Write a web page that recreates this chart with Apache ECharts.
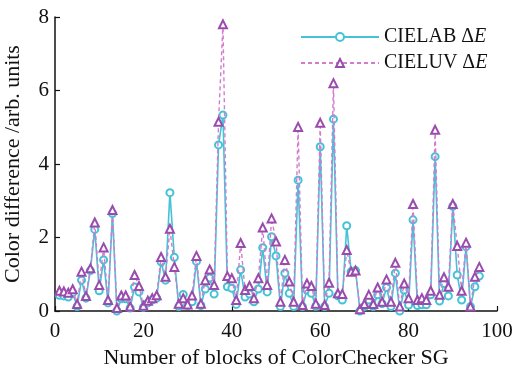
<!DOCTYPE html>
<html>
<head>
<meta charset="utf-8">
<script src="https://cdn.jsdelivr.net/npm/echarts@6/dist/echarts.min.js"></script>
<style>
  html, body { margin: 0; padding: 0; background: #fff; }
  #chart { width: 514px; height: 366px; }
</style>
</head>
<body>
<div id="chart"></div>
<script>
// Patch index on the ColorChecker SG (1..96)
const blocks = Array.from({ length: 96 }, (_, i) => i + 1);

// Colour difference per patch, CIELAB formula
const cielab = [
  0.43, 0.41, 0.38, 0.50, 0.12, 0.84, 0.35, 1.10, 2.22, 0.55,
  1.39, 0.22, 2.65, 0.00, 0.33, 0.33, 0.08, 0.65, 0.52, 0.10,
  0.22, 0.30, 0.35, 1.34, 0.84, 3.22, 1.46, 0.12, 0.45, 0.15,
  0.25, 1.35, 0.15, 0.60, 0.90, 0.46, 4.52, 5.33, 0.66, 0.62,
  0.18, 1.12, 0.38, 0.46, 0.25, 0.60, 1.72, 0.52, 2.02, 1.50,
  0.12, 1.03, 0.48, 0.12, 3.56, 0.12, 0.57, 0.48, 0.13, 4.47,
  0.12, 0.48, 5.22, 0.41, 0.30, 2.32, 1.07, 1.10, 0.00, 0.12,
  0.30, 0.12, 0.44, 0.20, 0.64, 0.12, 1.03, 0.00, 0.57, 0.16,
  2.48, 0.15, 0.17, 0.17, 0.44, 4.20, 0.27, 0.75, 0.41, 2.85,
  0.98, 0.30, 1.75, 0.12, 0.66, 0.95
];

// Colour difference per patch, CIELUV formula
const cieluv = [
  0.55, 0.53, 0.50, 0.59, 0.19, 1.07, 0.41, 1.16, 2.41, 0.71,
  1.73, 0.30, 2.75, 0.08, 0.42, 0.42, 0.12, 0.98, 0.68, 0.14,
  0.28, 0.35, 0.43, 1.47, 0.93, 2.24, 1.20, 0.20, 0.35, 0.18,
  0.42, 1.50, 0.20, 0.84, 1.13, 0.71, 5.15, 7.80, 0.95, 0.89,
  0.30, 1.85, 0.57, 0.68, 0.35, 0.89, 2.27, 0.71, 2.52, 1.89,
  0.25, 1.39, 0.80, 0.25, 5.01, 0.16, 0.75, 0.68, 0.20, 5.12,
  0.16, 0.77, 6.20, 0.48, 0.46, 1.66, 1.07, 1.10, 0.05, 0.19,
  0.44, 0.19, 0.64, 0.25, 0.86, 0.25, 1.31, 0.12, 0.75, 0.35,
  2.91, 0.30, 0.35, 0.30, 0.55, 4.93, 0.44, 0.92, 0.66, 2.91,
  1.77, 0.55, 1.86, 0.12, 0.93, 1.20
];

const seriesNames = ['CIELAB', 'CIELUV'];
const xTicks = { min: 0, max: 100, interval: 20 };
const yTicks = { min: 0, max: 8, interval: 2 };

const FONT = '"Liberation Serif", "DejaVu Serif", serif';
const labColor = '#45c2d6';
const luvMarker = '#9a4cae';
const luvLine = '#d47ccc';

const chart = echarts.init(document.getElementById('chart'), null, { renderer: 'canvas' });

const axisCommon = {
  axisLine: { show: true, onZero: false, lineStyle: { color: '#111', width: 1.5 } },
  axisTick: { show: true, inside: true, length: 5, lineStyle: { color: '#111', width: 1.2 } },
  splitLine: { show: false },
  axisLabel: { color: '#111', fontFamily: FONT, fontSize: 21 },
  nameTextStyle: { color: '#111', fontFamily: FONT, fontSize: 22 },
  nameLocation: 'middle'
};

chart.setOption({
  animation: false,
  backgroundColor: '#fff',
  grid: { left: 55, right: 17, top: 17, bottom: 55, containLabel: false, outerBoundsMode: 'none' },
  legend: {
    orient: 'vertical',
    left: 295,
    top: 22,
    itemWidth: 78,
    itemHeight: 10,
    itemGap: 6,
    data: seriesNames,
    formatter: name => name + ' \u0394{i|E}',
    textStyle: {
      color: '#111', fontFamily: FONT, fontSize: 20, padding: [0, 0, 0, 0],
      rich: { i: { fontFamily: FONT, fontSize: 20, fontStyle: 'italic', color: '#111' } }
    }
  },
  xAxis: Object.assign({}, axisCommon, {
    type: 'value',
    min: xTicks.min, max: xTicks.max, interval: xTicks.interval,
    name: 'Number of blocks of ColorChecker SG',
    nameGap: 35,
    axisLabel: Object.assign({}, axisCommon.axisLabel, { margin: 10 })
  }),
  yAxis: Object.assign({}, axisCommon, {
    type: 'value',
    min: yTicks.min, max: yTicks.max, interval: yTicks.interval,
    name: 'Color difference /arb. units',
    nameGap: 31,
    axisLabel: Object.assign({}, axisCommon.axisLabel, { margin: 6 })
  }),
  series: [
    {
      name: seriesNames[0],
      type: 'line',
      data: blocks.map((b, i) => [b, cielab[i]]),
      symbol: 'emptyCircle',
      symbolSize: 7,
      showAllSymbol: true,
      lineStyle: { color: labColor, width: 1.6 },
      itemStyle: { color: labColor, borderColor: labColor, borderWidth: 1.5 },
      z: 2
    },
    {
      name: seriesNames[1],
      type: 'line',
      data: blocks.map((b, i) => [b, cieluv[i]]),
      symbol: 'emptyTriangle',
      symbolSize: 8,
      showAllSymbol: true,
      lineStyle: { color: luvLine, width: 1.4, type: [4, 3] },
      itemStyle: { color: luvMarker, borderColor: luvMarker, borderWidth: 1.5 },
      z: 3
    }
  ]
});
</script>
</body>
</html>
